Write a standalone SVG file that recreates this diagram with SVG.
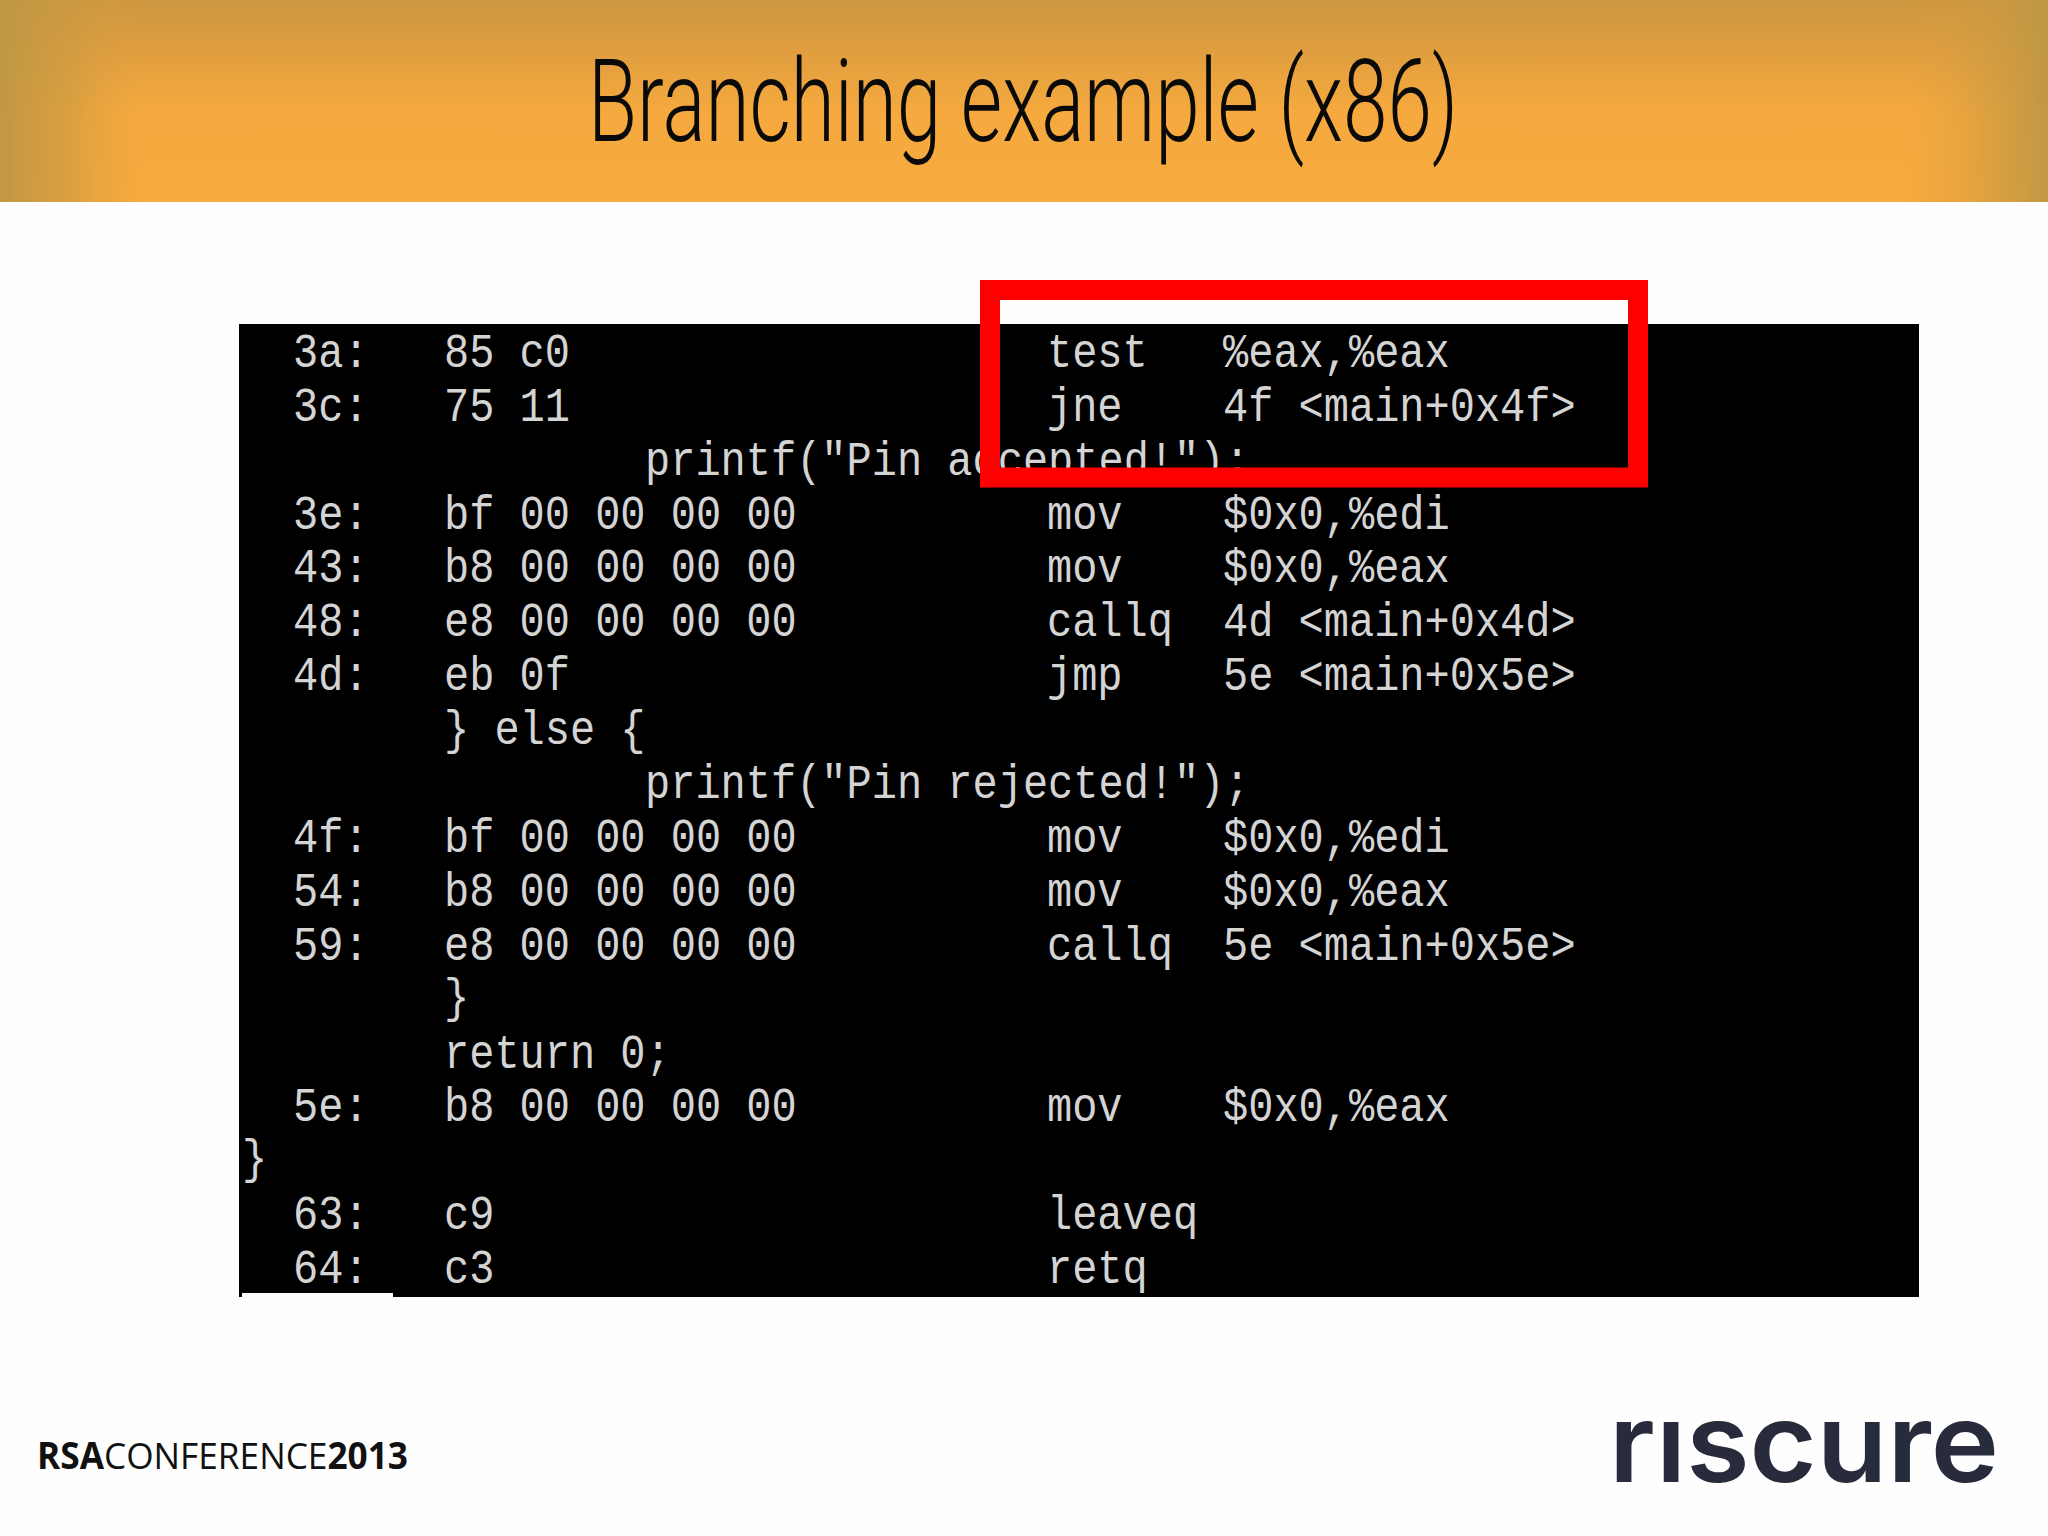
<svg xmlns="http://www.w3.org/2000/svg" width="2048" height="1536" viewBox="0 0 2048 1536">
<defs>
<linearGradient id="hdr" x1="0" y1="0" x2="0" y2="1"><stop offset="0" stop-color="#cc9640"/><stop offset="0.25" stop-color="#e09e3f"/><stop offset="0.55" stop-color="#f5a93e"/><stop offset="1" stop-color="#f7aa3e"/></linearGradient>
<linearGradient id="vig" x1="0" y1="0" x2="1" y2="0"><stop offset="0" stop-color="#bd9644" stop-opacity="0.95"/><stop offset="0.035" stop-color="#c99a42" stop-opacity="0.6"/><stop offset="0.07" stop-color="#e0a040" stop-opacity="0"/><stop offset="0.93" stop-color="#e0a040" stop-opacity="0"/><stop offset="0.97" stop-color="#c99a42" stop-opacity="0.55"/><stop offset="1" stop-color="#bd9644" stop-opacity="0.95"/></linearGradient>
<clipPath id="noDot"><rect x="1600" y="1421" width="410" height="70"/></clipPath>
<style>
text.c{font-family:"Liberation Mono",monospace;font-size:42px;fill:#d4d4d4}
</style>
</defs>
<rect width="2048" height="1536" fill="#fefefe"/>
<g id="header">
<rect width="2048" height="202" fill="url(#hdr)"/>
<rect width="2048" height="202" fill="url(#vig)"/>
<text x="588" y="141" font-family="Roboto,'Liberation Sans',sans-serif" font-weight="300" font-size="115" textLength="870" lengthAdjust="spacingAndGlyphs" fill="#0a0a0a">Branching example (x86)</text>
</g>
<g id="terminal">
<rect x="239" y="324" width="1680" height="973" fill="#000"/>
<rect x="242" y="1293" width="151" height="4" fill="#fefefe"/>
<g transform="translate(0,367) scale(1,1.14)"><text class="c" x="293">3a:</text><text class="c" x="444">85 c0</text><text class="c" x="1047">test</text><text class="c" x="1223">%eax,%eax</text></g>
<g transform="translate(0,421) scale(1,1.14)"><text class="c" x="293">3c:</text><text class="c" x="444">75 11</text><text class="c" x="1047">jne</text><text class="c" x="1223">4f &lt;main+0x4f&gt;</text></g>
<g transform="translate(0,475) scale(1,1.14)"><text class="c" x="645">printf("Pin accepted!");</text></g>
<g transform="translate(0,529) scale(1,1.14)"><text class="c" x="293">3e:</text><text class="c" x="444">bf 00 00 00 00</text><text class="c" x="1047">mov</text><text class="c" x="1223">$0x0,%edi</text></g>
<g transform="translate(0,582) scale(1,1.14)"><text class="c" x="293">43:</text><text class="c" x="444">b8 00 00 00 00</text><text class="c" x="1047">mov</text><text class="c" x="1223">$0x0,%eax</text></g>
<g transform="translate(0,636) scale(1,1.14)"><text class="c" x="293">48:</text><text class="c" x="444">e8 00 00 00 00</text><text class="c" x="1047">callq</text><text class="c" x="1223">4d &lt;main+0x4d&gt;</text></g>
<g transform="translate(0,690) scale(1,1.14)"><text class="c" x="293">4d:</text><text class="c" x="444">eb 0f</text><text class="c" x="1047">jmp</text><text class="c" x="1223">5e &lt;main+0x5e&gt;</text></g>
<g transform="translate(0,744) scale(1,1.14)"><text class="c" x="444">} else {</text></g>
<g transform="translate(0,798) scale(1,1.14)"><text class="c" x="645">printf("Pin rejected!");</text></g>
<g transform="translate(0,852) scale(1,1.14)"><text class="c" x="293">4f:</text><text class="c" x="444">bf 00 00 00 00</text><text class="c" x="1047">mov</text><text class="c" x="1223">$0x0,%edi</text></g>
<g transform="translate(0,906) scale(1,1.14)"><text class="c" x="293">54:</text><text class="c" x="444">b8 00 00 00 00</text><text class="c" x="1047">mov</text><text class="c" x="1223">$0x0,%eax</text></g>
<g transform="translate(0,960) scale(1,1.14)"><text class="c" x="293">59:</text><text class="c" x="444">e8 00 00 00 00</text><text class="c" x="1047">callq</text><text class="c" x="1223">5e &lt;main+0x5e&gt;</text></g>
<g transform="translate(0,1012) scale(1,1.14)"><text class="c" x="444">}</text></g>
<g transform="translate(0,1068) scale(1,1.14)"><text class="c" x="444">return 0;</text></g>
<g transform="translate(0,1121) scale(1,1.14)"><text class="c" x="293">5e:</text><text class="c" x="444">b8 00 00 00 00</text><text class="c" x="1047">mov</text><text class="c" x="1223">$0x0,%eax</text></g>
<g transform="translate(0,1173) scale(1,1.14)"><text class="c" x="242">}</text></g>
<g transform="translate(0,1229) scale(1,1.14)"><text class="c" x="293">63:</text><text class="c" x="444">c9</text><text class="c" x="1047">leaveq</text></g>
<g transform="translate(0,1283) scale(1,1.14)"><text class="c" x="293">64:</text><text class="c" x="444">c3</text><text class="c" x="1047">retq</text></g>
</g>
<rect id="highlight" x="990" y="290" width="648" height="187.5" fill="none" stroke="#ff0000" stroke-width="20"/>
<g id="rsa-logo" fill="#111" font-family="'Open Sans','Liberation Sans',sans-serif" font-size="37">
<text x="37" y="1469" textLength="371" lengthAdjust="spacingAndGlyphs"><tspan font-weight="700">RSA</tspan><tspan font-weight="400">CONFERENCE</tspan><tspan font-weight="700">2013</tspan></text>
</g>
<g id="riscure-logo" clip-path="url(#noDot)">
<text x="1609" y="1482" font-family="Inter,'Liberation Sans',sans-serif" font-weight="600" font-size="110" textLength="390" lengthAdjust="spacingAndGlyphs" fill="#272b3b">riscure</text>
</g>
</svg>
